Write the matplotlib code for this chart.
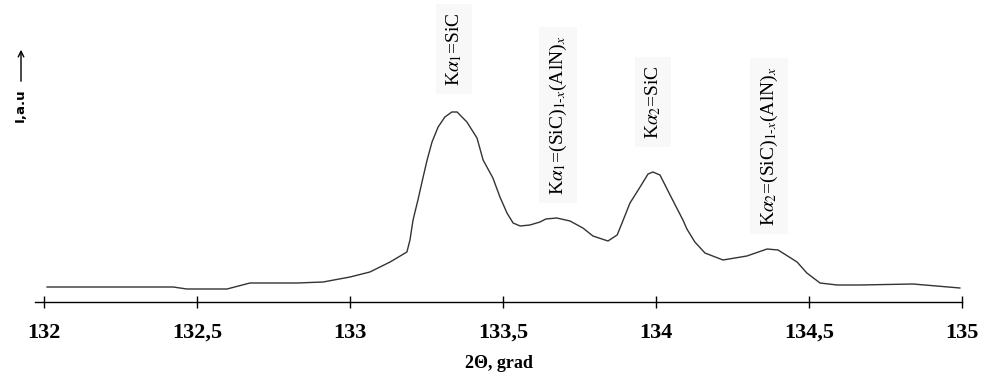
import matplotlib.pyplot as plt

# XRD profile
two_theta = [132.010, 132.422, 132.467, 132.598, 132.673, 132.827, 132.912, 133.000,
             133.065, 133.131, 133.186, 133.196, 133.206, 133.222, 133.239, 133.252,
             133.268, 133.288, 133.310, 133.333, 133.350, 133.382, 133.415, 133.435,
             133.467, 133.490, 133.513, 133.533, 133.556, 133.588, 133.621, 133.640,
             133.676, 133.719, 133.761, 133.794, 133.843, 133.873, 133.889, 133.915,
             133.948, 133.974, 133.990, 134.013, 134.046, 134.088, 134.101, 134.127,
             134.160, 134.219, 134.297, 134.363, 134.399, 134.461, 134.493, 134.536,
             134.592, 134.667, 134.840, 134.993]
intensity = [15, 15, 13, 13, 19, 19, 20, 25,
             30, 40, 50, 62, 82, 102, 125, 142,
             160, 175, 185, 190, 190, 180, 164, 142,
             124, 105, 89, 79, 76, 77, 80, 83,
             84, 81, 74, 66, 61, 67, 79, 99,
             115, 128, 130, 127, 107, 82, 73, 60,
             49, 42, 46, 53, 52, 40, 29, 19,
             17, 17, 18, 14]

tick_values = [132, 132.5, 133, 133.5, 134, 134.5, 135]
tick_labels = ["132", "132,5", "133", "133,5", "134", "134,5", "135"]

peak_labels = [r"K$\alpha_1$=SiC",
               r"K$\alpha_1$=(SiC)$_{1\text{-}x}$(AlN)$_x$",
               r"K$\alpha_2$=SiC",
               r"K$\alpha_2$=(SiC)$_{1\text{-}x}$(AlN)$_x$"]
peak_x = [133.34, 133.68, 133.99, 134.37]
peak_y = [253, 187, 200, 156]

plt.rcParams['font.family'] = ['Liberation Serif', 'DejaVu Serif']
plt.rcParams['mathtext.fontset'] = 'stix'

fig = plt.figure(figsize=(9.82, 3.74), dpi=100)
ax = fig.add_axes([35 / 982, 72 / 374, 927 / 982, 302 / 374])

ax.plot(two_theta, intensity, color='#333333', linewidth=1.0)

ax.set_xlim(132 - 9 / 306, 135)
ax.set_ylim(0, 302)

for side in ['top', 'right', 'left']:
    ax.spines[side].set_visible(False)
ax.spines['bottom'].set_linewidth(1.0)
ax.set_yticks([])

ax.set_xticks(tick_values)
ax.set_xticklabels(tick_labels, fontsize=16, fontweight='bold')
ax.tick_params(axis='x', direction='inout', length=8, width=1, pad=11)

ax.set_xlabel("2\u0398, grad", fontsize=13, fontweight='bold', labelpad=9)

for lbl, x, y in zip(peak_labels, peak_x, peak_y):
    ax.text(x, y, lbl, rotation=90, ha='center', va='center', fontsize=14,
            bbox=dict(facecolor='#f8f8f8', edgecolor='none', pad=6))

# y axis hint: "I,a.u" with an upward arrow
fig.text(20 / 982, 1 - 105 / 374, "I,a.u", rotation=90, ha='center', va='center',
         fontsize=9.5, fontweight='bold', family='DejaVu Sans')
ax.annotate("", xy=(21 / 982, 1 - 47 / 374), xytext=(21 / 982, 1 - 84 / 374),
            xycoords='figure fraction', textcoords='figure fraction',
            arrowprops=dict(arrowstyle='->', color='black', linewidth=1))

fig.savefig("out.png", dpi=100)
